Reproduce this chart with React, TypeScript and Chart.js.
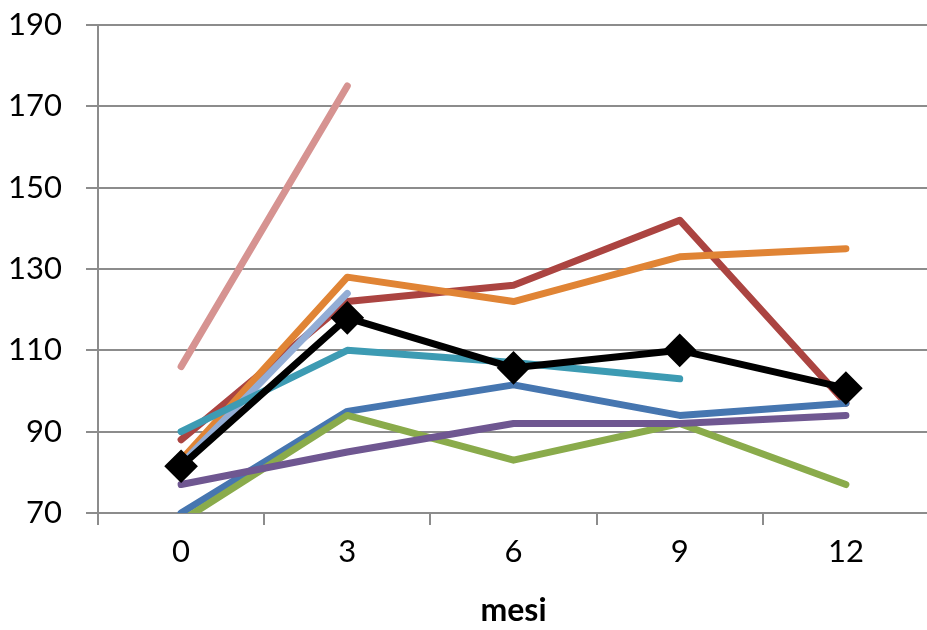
import React, { useEffect, useRef } from "react";
import { Chart, registerables } from "chart.js";

Chart.register(...registerables);

const months = ["0", "3", "6", "9", "12"];
const yTicks = [70, 90, 110, 130, 150, 170, 190];

const pinkValues = [106, 175, null, null, null];
const redValues = [88, 122, 126, 142, 97];
const orangeValues = [83, 128, 122, 133, 135];
const lavenderValues = [82, 124, null, null, null];
const tealValues = [90, 110, 107, 103, null];
const blueValues = [70, 95, 101.5, 94, 97];
const greenValues = [68, 94, 83, 92, 77];
const purpleValues = [77, 85, 92, 92, 94];
const meanValues = [81.5, 118, 105.7, 110, 100.7];

const FONT = "Lato, 'Open Sans', sans-serif";

export default function App() {
  const ref = useRef<HTMLCanvasElement | null>(null);

  useEffect(() => {
    document.body.style.margin = "0";
    const ctx = ref.current!;
    const line = (data: (number | null)[], color: string, order: number) => ({
      data,
      borderColor: color,
      backgroundColor: color,
      borderWidth: 7,
      borderCapStyle: "round" as const,
      borderJoinStyle: "round" as const,
      pointRadius: 0,
      pointHoverRadius: 0,
      spanGaps: false,
      order,
    });
    const chart = new Chart(ctx, {
      type: "line",
      data: {
        labels: months,
        datasets: [
          {
            data: meanValues,
            borderColor: "#000000",
            backgroundColor: "#000000",
            borderWidth: 7,
            borderJoinStyle: "round",
            pointStyle: "rectRot",
            pointRadius: 14,
            pointBorderWidth: 4,
            pointBorderColor: "#000000",
            pointBackgroundColor: "#000000",
            order: 0,
          },
          line(purpleValues, "#6f5791", 1),
          line(greenValues, "#8aab4b", 2),
          line(blueValues, "#4676b0", 3),
          line(tealValues, "#3d9bb3", 4),
          line(lavenderValues, "#93add5", 5),
          line(orangeValues, "#e08435", 6),
          line(redValues, "#ab4441", 7),
          line(pinkValues, "#d69391", 8),
        ],
      },
      options: {
        animation: false,
        responsive: false,
        events: [],
        layout: { padding: { top: 25, right: 0, left: 0, bottom: 0 } },
        plugins: { legend: { display: false }, tooltip: { enabled: false } },
        scales: {
          x: {
            type: "category",
            offset: true,
            border: { display: true, color: "#8c8c8c", width: 2 },
            grid: {
              offset: true,
              drawOnChartArea: false,
              drawTicks: true,
              tickLength: 12,
              color: "#8c8c8c",
              lineWidth: 2,
            },
            ticks: {
              color: "#000000",
              font: { family: FONT, size: 31 },
              padding: 8,
              maxRotation: 0,
            },
            title: {
              display: true,
              text: "mesi",
              color: "#000000",
              font: { family: FONT, size: 32, weight: "bold" },
              padding: { top: 4, bottom: 0 },
            },
            afterFit: (axis: any) => {
              axis.height = 117;
            },
          },
          y: {
            min: 70,
            max: 190,
            border: { display: true, color: "#8c8c8c", width: 2 },
            grid: {
              color: "#8c8c8c",
              lineWidth: 2,
              tickLength: 12,
            },
            afterBuildTicks: (axis: any) => {
              axis.ticks = yTicks.map((v) => ({ value: v }));
            },
            ticks: {
              color: "#000000",
              font: { family: FONT, size: 31 },
              padding: 24,
            },
            afterFit: (axis: any) => {
              axis.width = 98;
              axis.paddingTop = 0;
              axis.paddingBottom = 0;
            },
          },
        },
      },
    });
    return () => chart.destroy();
  }, []);

  return (
    <div style={{ width: 927, height: 630, overflow: "hidden", position: "relative", background: "#fff" }}>
      <canvas ref={ref} width={947} height={630} style={{ width: 947, height: 630, display: "block" }} />
    </div>
  );
}
